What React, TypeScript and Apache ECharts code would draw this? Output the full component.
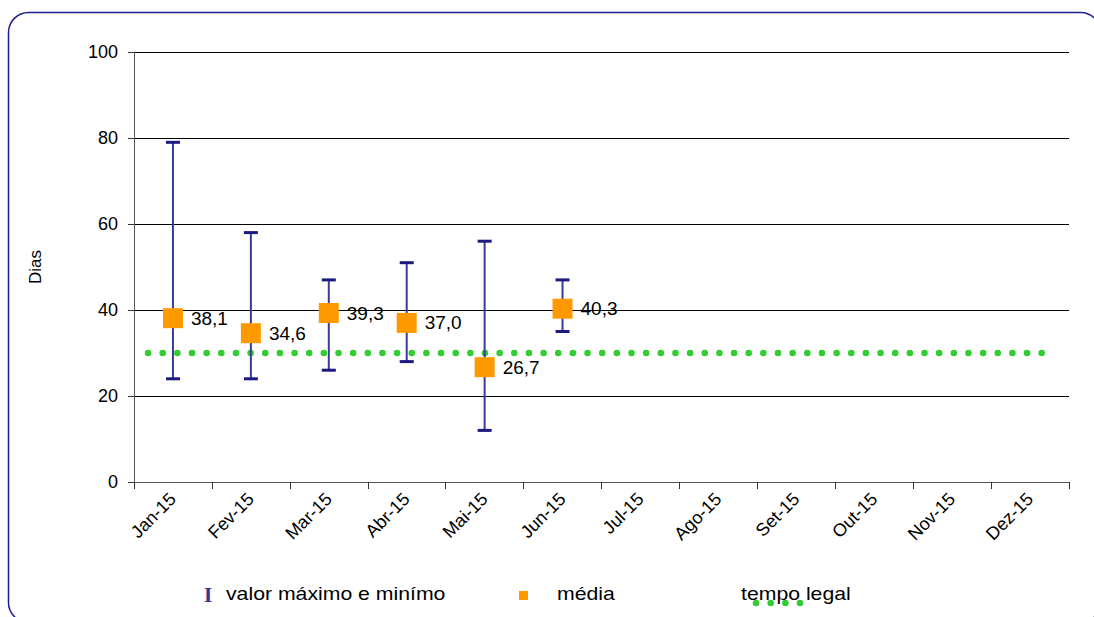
import React, { useEffect, useRef } from "react";
import * as echarts from "echarts";

const months = ["Jan-15", "Fev-15", "Mar-15", "Abr-15", "Mai-15", "Jun-15", "Jul-15", "Ago-15", "Set-15", "Out-15", "Nov-15", "Dez-15"];
const maxValues = [79, 58, 47, 51, 56, 47];
const minValues = [24, 24, 26, 28, 12, 35];
const meanValues = [38.1, 34.6, 39.3, 37.0, 26.7, 40.3];
const legalTime = 30;
const yTicks = [0, 20, 40, 60, 80, 100];

const FONT = "'Liberation Sans', Arial, sans-serif";

export default function App() {
  const ref = useRef<HTMLDivElement>(null);
  useEffect(() => {
    document.body.style.margin = "0";
    const chart = echarts.init(ref.current!, null, { renderer: "svg" });
    const errData = maxValues.map((mx, i) => [i, minValues[i], mx]);
    const meanData = meanValues.map((v, i) => [i, v]);
    const legendFont = "18px " + FONT;
    chart.setOption({
      animation: false,
      backgroundColor: "#fff",
      textStyle: { fontFamily: FONT },
      grid: { left: 134, right: 25, top: 52, bottom: 135, containLabel: false },
      xAxis: {
        type: "category",
        data: months,
        boundaryGap: true,
        axisLine: { lineStyle: { color: "#555", width: 1 } },
        axisTick: { show: true, length: 7, lineStyle: { color: "#333" } },
        axisLabel: { rotate: 45, color: "#000", fontSize: 18, margin: 14, fontFamily: FONT },
        splitLine: { show: false },
      },
      yAxis: {
        type: "value",
        min: yTicks[0],
        max: yTicks[yTicks.length - 1],
        interval: 20,
        name: "Dias",
        nameLocation: "middle",
        nameRotate: 90,
        nameGap: 90,
        nameTextStyle: { color: "#000", fontSize: 17, fontFamily: FONT },
        axisLine: { show: true, lineStyle: { color: "#555", width: 1 } },
        axisTick: { show: true, length: 6, lineStyle: { color: "#333" } },
        axisLabel: { color: "#000", fontSize: 18, margin: 16, fontFamily: FONT },
        splitLine: { show: true, lineStyle: { color: "#000", width: 1 } },
      },
      series: [
        {
          name: "tempo legal",
          type: "custom",
          data: [[0, legalTime]],
          z: 2,
          renderItem: (params: any, api: any) => {
            const cs = params.coordSys;
            const p = api.coord([api.value(0), api.value(1)]);
            return {
              type: "line",
              shape: { x1: cs.x + 14, y1: p[1], x2: cs.x + cs.width - 14, y2: p[1] },
              style: { stroke: "#33CC33", lineWidth: 6.5, lineCap: "round", lineDash: [0.1, 14.55] },
            };
          },
        },
        {
          name: "valor máximo e minímo",
          type: "custom",
          data: errData,
          z: 3,
          renderItem: (params: any, api: any) => {
            const lo = api.coord([api.value(0), api.value(1)]);
            const hi = api.coord([api.value(0), api.value(2)]);
            const x = lo[0];
            const half = 7;
            return {
              type: "group",
              children: [
                { type: "line", shape: { x1: x, y1: hi[1], x2: x, y2: lo[1] }, style: { stroke: "#3A3A9C", lineWidth: 2 } },
                { type: "line", shape: { x1: x - half, y1: hi[1], x2: x + half, y2: hi[1] }, style: { stroke: "#1A1A80", lineWidth: 3 } },
                { type: "line", shape: { x1: x - half, y1: lo[1], x2: x + half, y2: lo[1] }, style: { stroke: "#1A1A80", lineWidth: 3 } },
              ],
            };
          },
        },
        {
          name: "média",
          type: "scatter",
          data: meanData,
          z: 4,
          symbol: "rect",
          symbolSize: 20,
          itemStyle: { color: "#FF9900", opacity: 1 },
          label: {
            show: true,
            position: "right",
            distance: 8,
            color: "#000",
            fontSize: 19,
            fontFamily: FONT,
            formatter: (p: any) => p.value[1].toFixed(1).replace(".", ","),
          },
        },
      ],
      graphic: [
        {
          type: "rect",
          shape: { x: 8.5, y: 12.5, width: 1092, height: 610, r: 20 },
          style: { fill: "none", stroke: "#1F1F8F", lineWidth: 1.5 },
          silent: true,
        },
        {
          type: "text",
          x: 204,
          y: 584,
          style: { text: "I", fill: "#333399", font: "bold 21px 'Liberation Serif', 'DejaVu Serif', serif" },
        },
        {
          type: "text",
          x: 226,
          y: 585,
          scaleX: 1.18,
          style: { text: "valor máximo e minímo", fill: "#000", font: legendFont },
        },
        {
          type: "rect",
          shape: { x: 519, y: 591, width: 9, height: 9 },
          style: { fill: "#FF9900" },
        },
        {
          type: "text",
          x: 557,
          y: 585,
          scaleX: 1.18,
          style: { text: "média", fill: "#000", font: legendFont },
        },
        {
          type: "text",
          x: 741,
          y: 585,
          scaleX: 1.18,
          style: { text: "tempo legal", fill: "#000", font: legendFont },
        },
        {
          type: "line",
          shape: { x1: 756, y1: 603, x2: 801, y2: 603 },
          style: { stroke: "#33CC33", lineWidth: 6.5, lineCap: "round", lineDash: [0.1, 14.55] },
        },
      ],
    });
    return () => chart.dispose();
  }, []);
  return <div ref={ref} style={{ width: 1094, height: 617 }} />;
}
